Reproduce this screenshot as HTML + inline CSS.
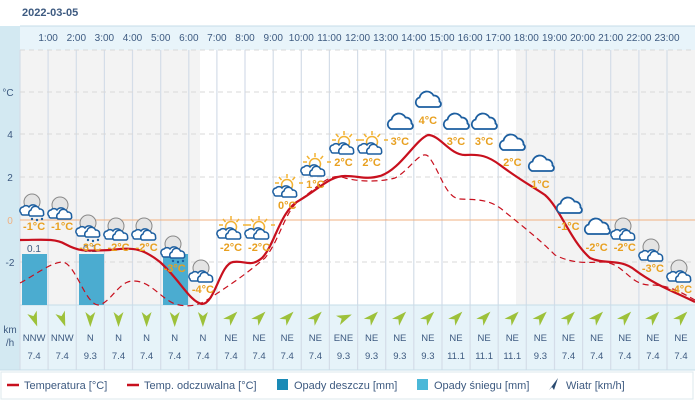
<!DOCTYPE html>
<html><head><meta charset="utf-8"><style>
body{margin:0;background:#fff;font-family:"Liberation Sans",sans-serif;}
svg text{font-family:"Liberation Sans",sans-serif;}
</style></head><body>
<svg width="695" height="408" viewBox="0 0 695 408" xmlns="http://www.w3.org/2000/svg">
<defs>
<symbol id="cl" viewBox="0 0 28 18" overflow="visible"><path d="M5,17 a5,5 0 0 1 0.5,-9.5 a7.5,7.5 0 0 1 14,-2 a5.5,5.5 0 0 1 6,6 a3,3 0 0 1 -1,5.5 z" fill="#fff" stroke="#1d5fa0" stroke-width="1.8"/></symbol>
<symbol id="sc" viewBox="0 0 28 24" overflow="visible"><g stroke="#f2b233" stroke-width="1.5"><line x1="14" y1="0" x2="14" y2="4"/><line x1="6" y1="3" x2="8.5" y2="6"/><line x1="22" y1="3" x2="19.5" y2="6"/><line x1="2" y1="9" x2="6" y2="9"/><line x1="26" y1="9" x2="30" y2="9"/></g><circle cx="14" cy="11" r="5.5" fill="#fff" stroke="#f2b233" stroke-width="1.5"/><path d="M1,20 a3.5,3.5 0 0 1 2,-6 a4,4 0 0 1 6,0 a5,5 0 0 1 9,2 a3.5,3.5 0 0 1 3,6 h-18 a2,2 0 0 1 -2,-2z" fill="#fff" stroke="#1d5fa0" stroke-width="1.5"/><path d="M10,23 a3.5,3.5 0 0 1 1,-6 a4.5,4.5 0 0 1 8.5,-1 a3.5,3.5 0 0 1 4,4 a2.5,2.5 0 0 1 -1,3 z" fill="#fff" stroke="#1d5fa0" stroke-width="1.5"/></symbol>
<symbol id="mc" viewBox="0 0 28 24" overflow="visible"><circle cx="12" cy="9" r="8" fill="#e4e4e4" stroke="#888" stroke-width="1"/><path d="M1,20 a3.5,3.5 0 0 1 2,-6 a4,4 0 0 1 6,0 a5,5 0 0 1 9,2 a3.5,3.5 0 0 1 3,6 h-18 a2,2 0 0 1 -2,-2z" fill="#fff" stroke="#1d5fa0" stroke-width="1.5"/><path d="M10,23 a3.5,3.5 0 0 1 1,-6 a4.5,4.5 0 0 1 8.5,-1 a3.5,3.5 0 0 1 4,4 a2.5,2.5 0 0 1 -1,3 z" fill="#fff" stroke="#1d5fa0" stroke-width="1.5"/></symbol>
<symbol id="ms" viewBox="0 0 28 28" overflow="visible"><use href="#mc" x="0" y="0" width="28" height="24"/><g fill="#1d5fa0"><circle cx="12" cy="26" r="1.2"/><circle cx="17" cy="27" r="1.2"/><circle cx="22" cy="26" r="1.2"/></g></symbol>
<polygon id="ar" points="0,-9 5,6 0,2 -5,6" fill="#9dc13a"/>
</defs>
<rect x="0" y="26" width="20" height="344" fill="#d3e9f2"/>
<rect x="20" y="26" width="675" height="24" fill="#e8f4fa"/>
<rect x="20" y="50" width="180" height="255" fill="#f3f3f3"/>
<rect x="516" y="50" width="179" height="255" fill="#f3f3f3"/>
<rect x="20" y="305" width="675" height="65" fill="#e6f3f9"/>
<line x1="20" y1="26" x2="695" y2="26" stroke="#c6dde8"/>
<text x="22" y="16" font-size="11" font-weight="bold" fill="#3d5a80">2022-03-05</text>
<g font-size="10" fill="#3d5a80" text-anchor="middle">
<text x="48.1" y="41">1:00</text><text x="76.3" y="41">2:00</text><text x="104.4" y="41">3:00</text><text x="132.5" y="41">4:00</text><text x="160.7" y="41">5:00</text><text x="188.8" y="41">6:00</text><text x="216.9" y="41">7:00</text><text x="245" y="41">8:00</text><text x="273.2" y="41">9:00</text><text x="301.3" y="41">10:00</text><text x="329.4" y="41">11:00</text><text x="357.6" y="41">12:00</text><text x="385.7" y="41">13:00</text><text x="413.8" y="41">14:00</text><text x="442" y="41">15:00</text><text x="470.1" y="41">16:00</text><text x="498.2" y="41">17:00</text><text x="526.3" y="41">18:00</text><text x="554.5" y="41">19:00</text><text x="582.6" y="41">20:00</text><text x="610.7" y="41">21:00</text><text x="638.9" y="41">22:00</text><text x="667" y="41">23:00</text>
</g>
<g stroke="#d4dde8" stroke-width="1.2">
<line x1="48.1" y1="50" x2="48.1" y2="370"/><line x1="76.3" y1="50" x2="76.3" y2="370"/><line x1="104.4" y1="50" x2="104.4" y2="370"/><line x1="132.5" y1="50" x2="132.5" y2="370"/><line x1="160.7" y1="50" x2="160.7" y2="370"/><line x1="188.8" y1="50" x2="188.8" y2="370"/><line x1="216.9" y1="50" x2="216.9" y2="370"/><line x1="245" y1="50" x2="245" y2="370"/><line x1="273.2" y1="50" x2="273.2" y2="370"/><line x1="301.3" y1="50" x2="301.3" y2="370"/><line x1="329.4" y1="50" x2="329.4" y2="370"/><line x1="357.6" y1="50" x2="357.6" y2="370"/><line x1="385.7" y1="50" x2="385.7" y2="370"/><line x1="413.8" y1="50" x2="413.8" y2="370"/><line x1="442" y1="50" x2="442" y2="370"/><line x1="470.1" y1="50" x2="470.1" y2="370"/><line x1="498.2" y1="50" x2="498.2" y2="370"/><line x1="526.3" y1="50" x2="526.3" y2="370"/><line x1="554.5" y1="50" x2="554.5" y2="370"/><line x1="582.6" y1="50" x2="582.6" y2="370"/><line x1="610.7" y1="50" x2="610.7" y2="370"/><line x1="638.9" y1="50" x2="638.9" y2="370"/><line x1="667" y1="50" x2="667" y2="370"/>
<line x1="20" y1="50" x2="20" y2="370"/>
</g>
<g stroke="#d8d8d8" stroke-dasharray="5,4">
<line x1="20" y1="50" x2="695" y2="50"/><line x1="20" y1="92" x2="695" y2="92"/><line x1="20" y1="134" x2="695" y2="134"/><line x1="20" y1="177" x2="695" y2="177"/><line x1="20" y1="262" x2="695" y2="262"/>
</g>
<line x1="20" y1="220" x2="695" y2="220" stroke="#f0b080" stroke-width="1"/>
<line x1="20" y1="305" x2="695" y2="305" stroke="#c6dde8"/>
<g font-size="10" fill="#3d5a80" text-anchor="middle">
<text x="8" y="96">°C</text><text x="10" y="138">4</text><text x="10" y="181">2</text><text x="10" y="266">-2</text>
<text x="10" y="333">km</text><text x="10" y="346">/h</text>
</g>
<text x="10" y="224" font-size="10" fill="#f0b080" text-anchor="middle">0</text>
<g fill="#4bacd0">
<rect x="22" y="254" width="25" height="51"/><rect x="79" y="254" width="25" height="51"/><rect x="163" y="254" width="25" height="51"/>
</g>
<g font-size="10" fill="#3d5a80" text-anchor="middle"><text x="34" y="252">0.1</text><text x="90" y="252">0.1</text></g>
<path d="M20,240 C40,240 55,238 65,244 C80,252 85,251 110,250 C130,248 140,246 160,262 C180,280 190,302 202,304 C215,304 220,264 233,262 C245,260 250,268 262,258 C275,245 280,210 300,200 C320,188 330,176 345,176 C360,176 365,180 380,176 C400,170 415,140 428,135 C440,135 450,155 465,155 C480,154 488,156 500,165 C520,180 530,185 545,195 C560,208 570,240 590,258 C605,265 620,258 635,270 C655,285 675,292 695,302" fill="none" stroke="#c8101e" stroke-width="2.2"/>
<path d="M20,283 C35,275 50,263 62,262 C75,262 85,304 98,305 C110,304 118,282 132,281 C150,280 160,298 175,304 C190,308 200,305 210,298 C230,285 245,275 265,258 C280,240 285,210 300,200 C320,185 330,172 345,178 C360,182 380,182 395,178 C410,170 420,150 428,156 C440,170 445,198 460,199 C475,200 490,198 505,212 C525,228 540,240 555,255 C575,265 590,262 605,262 C625,265 630,285 650,285 C670,285 680,292 695,300" fill="none" stroke="#c8101e" stroke-width="1.2" stroke-dasharray="6,4"/>
<g>
<use href="#ms" x="20" y="193" width="28" height="28"/>
<use href="#mc" x="48" y="196" width="28" height="24"/>
<use href="#ms" x="76" y="214" width="28" height="28"/>
<use href="#mc" x="104" y="217" width="28" height="24"/>
<use href="#mc" x="132" y="217" width="28" height="24"/>
<use href="#ms" x="161" y="235" width="28" height="28"/>
<use href="#mc" x="189" y="259" width="28" height="24"/>
<use href="#sc" x="217" y="216" width="28" height="24"/>
<use href="#sc" x="245" y="216" width="28" height="24"/>
<use href="#sc" x="273" y="174" width="28" height="24"/>
<use href="#sc" x="301" y="153" width="28" height="24"/>
<use href="#sc" x="330" y="131" width="28" height="24"/>
<use href="#sc" x="358" y="131" width="28" height="24"/>
<use href="#cl" x="386" y="112" width="28" height="18"/>
<use href="#cl" x="414" y="90" width="28" height="18"/>
<use href="#cl" x="442" y="112" width="28" height="18"/>
<use href="#cl" x="470" y="112" width="28" height="18"/>
<use href="#cl" x="498" y="133" width="28" height="18"/>
<use href="#cl" x="527" y="154" width="28" height="18"/>
<use href="#cl" x="555" y="196" width="28" height="18"/>
<use href="#cl" x="583" y="217" width="28" height="18"/>
<use href="#mc" x="611" y="217" width="28" height="24"/>
<use href="#mc" x="639" y="238" width="28" height="24"/>
<use href="#mc" x="667" y="259" width="28" height="24"/>
</g>
<g font-size="11" font-weight="bold" fill="#e8a020" text-anchor="middle">
<text x="34.1" y="230">-1°C</text><text x="62.2" y="230">-1°C</text><text x="90.3" y="251">-3°C</text><text x="118.5" y="251">-2°C</text><text x="146.6" y="251">-2°C</text><text x="174.7" y="272">-3°C</text><text x="202.9" y="293">-4°C</text><text x="231" y="251">-2°C</text><text x="259.1" y="251">-2°C</text><text x="287.2" y="209">0°C</text><text x="315.4" y="188">1°C</text><text x="343.5" y="166">2°C</text><text x="371.6" y="166">2°C</text><text x="399.8" y="145">3°C</text><text x="427.9" y="124">4°C</text><text x="456" y="145">3°C</text><text x="484.1" y="145">3°C</text><text x="512.3" y="166">2°C</text><text x="540.4" y="188">1°C</text><text x="568.5" y="230">-1°C</text><text x="596.7" y="251">-2°C</text><text x="624.8" y="251">-2°C</text><text x="652.9" y="272">-3°C</text><text x="681" y="293">-4°C</text>
</g>
<g>
<use href="#ar" transform="translate(34.1,318) rotate(160)"/><use href="#ar" transform="translate(62.2,318) rotate(160)"/><use href="#ar" transform="translate(90.3,318) rotate(180)"/><use href="#ar" transform="translate(118.5,318) rotate(180)"/><use href="#ar" transform="translate(146.6,318) rotate(180)"/><use href="#ar" transform="translate(174.7,318) rotate(180)"/><use href="#ar" transform="translate(202.9,318) rotate(180)"/>
<use href="#ar" transform="translate(231,318) rotate(45)"/><use href="#ar" transform="translate(259.1,318) rotate(45)"/><use href="#ar" transform="translate(287.2,318) rotate(45)"/><use href="#ar" transform="translate(315.4,318) rotate(45)"/><use href="#ar" transform="translate(343.5,318) rotate(67)"/><use href="#ar" transform="translate(371.6,318) rotate(45)"/><use href="#ar" transform="translate(399.8,318) rotate(45)"/><use href="#ar" transform="translate(427.9,318) rotate(45)"/><use href="#ar" transform="translate(456,318) rotate(45)"/><use href="#ar" transform="translate(484.1,318) rotate(45)"/><use href="#ar" transform="translate(512.3,318) rotate(45)"/><use href="#ar" transform="translate(540.4,318) rotate(45)"/><use href="#ar" transform="translate(568.5,318) rotate(45)"/><use href="#ar" transform="translate(596.7,318) rotate(45)"/><use href="#ar" transform="translate(624.8,318) rotate(45)"/><use href="#ar" transform="translate(652.9,318) rotate(45)"/><use href="#ar" transform="translate(681,318) rotate(45)"/>
</g>
<g font-size="9.5" fill="#3d5a80" text-anchor="middle">
<text x="34.1" y="341">NNW</text><text x="62.2" y="341">NNW</text><text x="90.3" y="341">N</text><text x="118.5" y="341">N</text><text x="146.6" y="341">N</text><text x="174.7" y="341">N</text><text x="202.9" y="341">N</text><text x="231" y="341">NE</text><text x="259.1" y="341">NE</text><text x="287.2" y="341">NE</text><text x="315.4" y="341">NE</text><text x="343.5" y="341">ENE</text><text x="371.6" y="341">NE</text><text x="399.8" y="341">NE</text><text x="427.9" y="341">NE</text><text x="456" y="341">NE</text><text x="484.1" y="341">NE</text><text x="512.3" y="341">NE</text><text x="540.4" y="341">NE</text><text x="568.5" y="341">NE</text><text x="596.7" y="341">NE</text><text x="624.8" y="341">NE</text><text x="652.9" y="341">NE</text><text x="681" y="341">NE</text>
</g>
<g font-size="9.5" fill="#3d5a80" text-anchor="middle">
<text x="34.1" y="359">7.4</text><text x="62.2" y="359">7.4</text><text x="90.3" y="359">9.3</text><text x="118.5" y="359">7.4</text><text x="146.6" y="359">7.4</text><text x="174.7" y="359">7.4</text><text x="202.9" y="359">7.4</text><text x="231" y="359">7.4</text><text x="259.1" y="359">7.4</text><text x="287.2" y="359">7.4</text><text x="315.4" y="359">7.4</text><text x="343.5" y="359">9.3</text><text x="371.6" y="359">9.3</text><text x="399.8" y="359">9.3</text><text x="427.9" y="359">9.3</text><text x="456" y="359">11.1</text><text x="484.1" y="359">11.1</text><text x="512.3" y="359">11.1</text><text x="540.4" y="359">9.3</text><text x="568.5" y="359">7.4</text><text x="596.7" y="359">7.4</text><text x="624.8" y="359">7.4</text><text x="652.9" y="359">7.4</text><text x="681" y="359">7.4</text>
</g>
<line x1="0" y1="370" x2="695" y2="370" stroke="#c6dde8"/>
<rect x="1" y="372" width="692" height="27" fill="#fff" stroke="#dde8ee"/>
<g font-size="11" fill="#3d5a80">
<line x1="7" y1="385" x2="19" y2="385" stroke="#c8101e" stroke-width="2.5"/><text x="24" y="389">Temperatura [°C]</text>
<line x1="127" y1="385" x2="139" y2="385" stroke="#c8101e" stroke-width="2.5"/><text x="144" y="389">Temp. odczuwalna [°C]</text>
<rect x="277" y="379" width="11" height="11" fill="#1a8ab6"/><text x="294" y="389">Opady deszczu [mm]</text>
<rect x="417" y="379" width="11" height="11" fill="#4bb8d8"/><text x="434" y="389">Opady śniegu [mm]</text>
<polygon points="558,378 554,390 552,387 549,390" fill="#2a4a70"/><text x="566" y="389">Wiatr [km/h]</text>
</g>
</svg>
</body></html>
